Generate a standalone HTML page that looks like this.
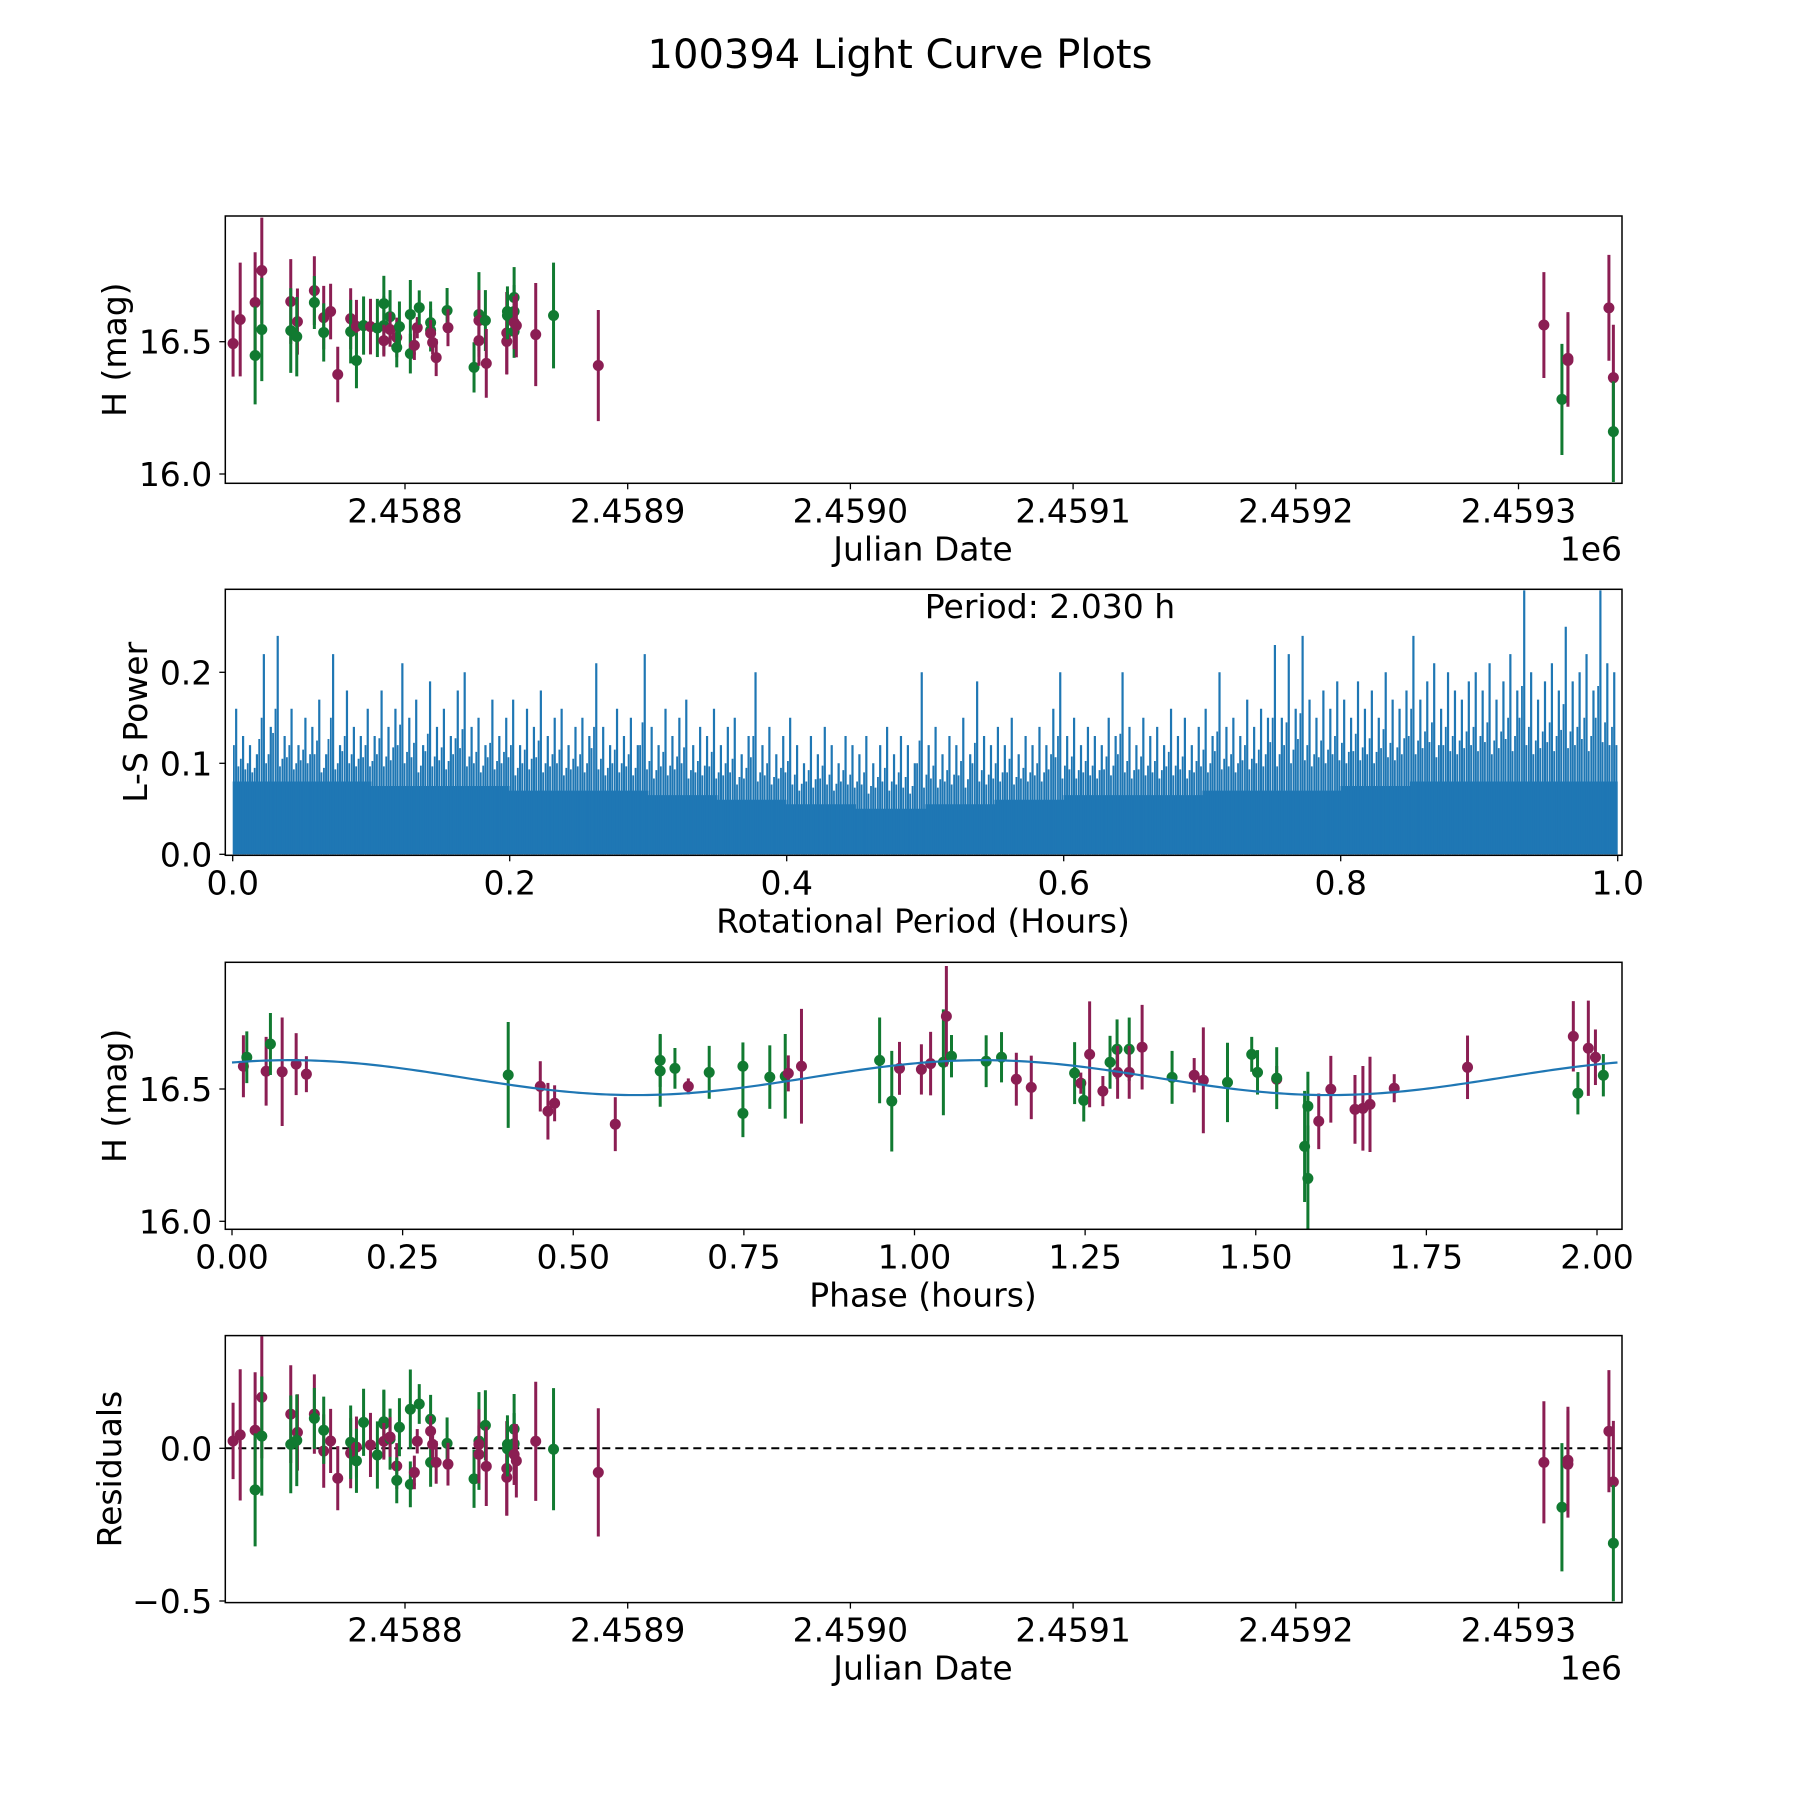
<!DOCTYPE html>
<html><head><meta charset="utf-8"><title>100394 Light Curve Plots</title>
<style>
html,body{margin:0;padding:0;background:#fff;}
svg{display:block;font-family:"DejaVu Sans","Liberation Sans",sans-serif;}
</style></head>
<body>
<svg id="fig" xmlns="http://www.w3.org/2000/svg" width="1800" height="1800" viewBox="0 0 1800 1800">
<rect x="0" y="0" width="1800" height="1800" fill="#fff"/>
<text x="900" y="68" font-size="40" text-anchor="middle" fill="#000">100394 Light Curve Plots</text>
<defs>
<clipPath id="c1"><rect x="225.3" y="216" width="1396.7" height="267.3"/></clipPath>
<clipPath id="c2"><rect x="225.3" y="589.3" width="1396.7" height="266"/></clipPath>
<clipPath id="c3"><rect x="225.3" y="962.3" width="1396.7" height="267"/></clipPath>
<clipPath id="c4"><rect x="225.3" y="1335.6" width="1396.7" height="267"/></clipPath>
</defs>
<g id="g1"></g>
<g id="g2"></g>
<g id="g3"></g>
<g id="g4"></g>
</svg>
<script>
// ---- Light curve data (Julian date, H mag, error, filter colour) ----
const jd = [2458722.8,2458726.0,2458732.7,2458732.7,2458735.7,2458735.7,2458748.7,2458748.7,2458751.7,2458751.4,
2458759.3,2458759.3,2458763.5,2458763.5,2458766.6,2458769.8,2458775.6,2458775.6,2458778.2,2458778.2,
2458781.4,2458784.5,2458787.6,2458790.5,2458790.5,2458790.5,2458793.3,2458793.3,2458796.3,2458796.3,
2458797.5,2458802.4,2458802.4,2458804.2,2458805.5,2458806.4,2458811.5,2458811.5,2458811.5,2458812.4,
2458814.0,2458818.9,2458819.3,2458831.0,2458833.2,2458833.2,2458833.2,2458836.1,2458836.5,2458845.7,
2458845.7,2458846.0,2458846.0,2458849.0,2458849.0,2458849.0,2458849.0,2458850.0,2458858.7,2458866.7,
2458886.8,2459311.4,2459319.5,2459322.2,2459322.2,2459340.6,2459342.6,2459342.6];
const mag = [16.493,16.584,16.648,16.448,16.769,16.546,16.652,16.542,16.576,16.519,
16.693,16.648,16.591,16.535,16.614,16.376,16.587,16.538,16.558,16.429,
16.561,16.557,16.552,16.644,16.561,16.504,16.595,16.546,16.516,16.478,
16.557,16.603,16.455,16.486,16.553,16.629,16.572,16.543,16.532,16.497,
16.440,16.618,16.553,16.403,16.603,16.580,16.504,16.580,16.418,16.533,
16.501,16.614,16.599,16.667,16.614,16.539,16.572,16.561,16.527,16.599,
16.410,16.563,16.282,16.437,16.429,16.628,16.364,16.160];
const magErr = [.125,.215,.19,.185,.2,.195,.16,.16,.125,.15,
.13,.1,.12,.11,.105,.105,.115,.12,.1,.105,
.11,.105,.11,.105,.11,.06,.1,.065,.075,.075,
.095,.13,.075,.055,.04,.065,.08,.08,.05,.045,
.07,.085,.07,.095,.16,.115,.095,.115,.13,.155,
.125,.095,.09,.115,.1,.1,.1,.12,.195,.2,
.21,.2,.21,.175,.175,.2,.2,.19];
const band = ['m','m','m','g','m','g','m','g','m','g',
'm','g','m','g','m','m','m','g','m','g',
'g','m','g','g','g','m','g','m','m','g',
'g','g','g','m','m','g','g','g','m','m',
'm','g','m','g','g','m','m','g','m','m',
'm','g','g','g','g','g','m','m','m','g',
'm','m','g','m','m','m','m','g'];
const resid = [.024,.044,.059,-.136,.167,.040,.112,.013,.052,.026,
.112,.098,-.009,.059,.024,-.098,-.016,.020,.004,-.041,
.085,.011,-.022,.087,.079,.023,.03,.037,-.058,-.105,
.069,.128,-.118,-.079,.023,.145,.095,-.046,.056,.013,
-.046,.016,-.052,-.100,.024,.013,-.020,.075,-.059,-.066,
-.095,.013,-.002,.063,.015,.015,-.020,-.041,.023,-.003,
-.079,-.046,-.193,-.039,-.052,.056,-.11,-.311];
// ---- Phase-folded data ----
const phase = [0.0167,0.0217,0.050,0.0563,0.0735,0.094,0.109,0.4047,0.4517,0.4629,0.4727,0.5616,0.6274,0.6274,0.649,0.6686,0.6992,0.7486,0.7486,0.788,
0.8106,0.8151,0.8344,0.9489,0.9667,0.978,1.0101,1.0236,1.0423,1.0467,1.0542,1.105,1.1275,1.1492,1.1711,1.2346,1.2437,1.248,1.2566,1.276,
1.2865,1.2968,1.2976,1.3146,1.3146,1.3335,1.3774,1.4098,1.4232,1.4586,1.4941,1.5026,1.5307,1.5307,1.5716,1.5764,1.5764,1.5923,1.61,1.6454,
1.657,1.6674,1.7029,1.8103,1.9653,1.972,1.9873,1.9977,2.0093];
const phaseMag = [16.586,16.620,16.567,16.670,16.565,16.594,16.556,16.553,16.510,16.416,16.446,16.367,16.608,16.568,16.578,16.510,16.563,16.586,16.408,16.545,
16.548,16.559,16.586,16.608,16.454,16.578,16.574,16.596,16.601,16.775,16.624,16.605,16.620,16.537,16.506,16.560,16.522,16.457,16.631,16.492,
16.601,16.650,16.563,16.650,16.563,16.658,16.544,16.552,16.533,16.525,16.631,16.563,16.537,16.541,16.283,16.435,16.162,16.378,16.499,16.423,
16.427,16.442,16.503,16.582,16.699,16.484,16.654,16.620,16.552];
const phaseErr = [.117,.098,.13,.117,.205,.117,.068,.2,.095,.107,.068,.102,.1,.135,.077,.03,.1,.09,.09,.12,
.16,.068,.217,.162,.19,.1,.095,.12,.2,.19,.08,.098,.095,.1,.12,.117,.04,.08,.2,.057,
.1,.113,.1,.12,.1,.16,.1,.065,.2,.15,.066,.084,.05,.117,.21,.13,.2,.105,.126,.13,
.16,.18,.053,.12,.133,.08,.18,.105,.08];
const phaseBand = ['m','g','m','g','m','m','m','g','m','m','m','m','g','g','g','m','g','g','g','g',
'g','m','m','g','g','m','m','m','g','m','g','g','g','m','m','g','m','g','m','m',
'g','g','m','g','m','m','g','m','m','g','g','g','m','g','g','g','g','m','m','m',
'm','m','m','m','m','g','m','m','g'];
// model: mean, amplitude, half-period (h), phase of maximum (h), max phase plotted
const modelMean = [16.543];
const modelAmp = [0.066];
const modelHalfPeriod = [1.015];
const modelPeak = [0.085];
const modelSpan = [2.03];
// ---- Periodogram (peak power per 0.005 h bin, floor per 0.05 h) ----
const lsPeaks = [.16,.13,.12,.11,.22,.14,.24,.13,.16,.12,
.15,.14,.17,.11,.22,.12,.18,.14,.13,.16,
.13,.18,.14,.16,.21,.15,.17,.12,.19,.14,
.16,.13,.18,.20,.14,.15,.12,.17,.13,.15,
.17,.12,.16,.14,.18,.13,.15,.16,.12,.14,
.15,.13,.21,.14,.12,.16,.13,.15,.12,.22,
.14,.12,.16,.13,.15,.17,.12,.14,.13,.16,
.12,.14,.15,.11,.13,.20,.12,.14,.11,.13,
.15,.12,.10,.13,.11,.14,.12,.10,.13,.12,
.11,.13,.10,.12,.14,.11,.13,.12,.10,.20,
.12,.14,.11,.13,.12,.15,.11,.19,.13,.12,
.14,.12,.15,.11,.13,.12,.14,.12,.16,.20,
.13,.15,.12,.14,.13,.12,.15,.13,.20,.14,
.12,.15,.13,.14,.12,.16,.13,.15,.12,.14,
.16,.13,.20,.14,.15,.13,.17,.14,.16,.15,
.23,.15,.22,.16,.24,.17,.15,.18,.16,.19,
.17,.15,.19,.16,.18,.15,.20,.17,.16,.18,
.24,.17,.19,.21,.16,.20,.18,.17,.19,.20,
.18,.21,.17,.19,.22,.18,.29,.20,.17,.19,
.21,.18,.25,.19,.20,.22,.18,.29,.21,.20];
const lsFloor = [.08,.08,.075,.075,.07,.07,.065,.06,.055,.05,.055,.06,.065,.065,.07,.07,.075,.08,.08,.08];
const periodLabel = ['Period: 2.030 h'];
// ---- Tick labels ----
const jdTicks = [2458800,2458900,2459000,2459100,2459200,2459300];
const jdTickLabels = ['2.4588','2.4589','2.4590','2.4591','2.4592','2.4593'];
const magTicks = [16.0,16.5];
const magTickLabels = ['16.0','16.5'];
const lsXTicks = [0,0.2,0.4,0.6,0.8,1.0];
const lsXTickLabels = ['0.0','0.2','0.4','0.6','0.8','1.0'];
const lsYTicks = [0,0.1,0.2];
const lsYTickLabels = ['0.0','0.1','0.2'];
const phTicks = [0,0.25,0.5,0.75,1.0,1.25,1.5,1.75,2.0];
const phTickLabels = ['0.00','0.25','0.50','0.75','1.00','1.25','1.50','1.75','2.00'];
const resTicks = [0,-0.5];
const resTickLabels = ['0.0','\u22120.5'];

const NS='http://www.w3.org/2000/svg';
const COL={m:'#8b1e53',g:'#117a31'};
const FS=33;
const L=225.3,R=1622;
const P1={t:216,b:483.3}, P2={t:589.3,b:855.3}, P3={t:962.3,b:1229.3}, P4={t:1335.6,b:1602.6};
const xJD=v=>405+(v-2458800)*2.227;
const yMag1=v=>474-(v-16)*264.6;
const yMag3=v=>1221.3-(v-16)*264.6;
const xLS=v=>232.7+v*1385;
const yLS=v=>854.3-v*910;
const xPh=v=>232+v*682.5;
const yRes=v=>1448.3-v*305.4;

function mk(tag,attrs,parent){const e=document.createElementNS(NS,tag);for(const k in attrs)e.setAttribute(k,attrs[k]);parent.appendChild(e);return e;}
function frame(g,P){
  const r=mk('rect',{x:L,y:P.t,width:R-L,height:P.b-P.t,fill:'none',stroke:'#000','stroke-width':1.5},g);
  
  
}
function xticks(g,P,vals,labels,fx,name){
  vals.forEach((v,i)=>{const x=fx(v);
    const t=mk('line',{x1:x,x2:x,y1:P.b,y2:P.b+6,stroke:'#000','stroke-width':1.3},g);
    
    
    const s=mk('text',{x:x,y:P.b+39,'font-size':FS,'text-anchor':'middle'},g);s.textContent=labels[i];
    
    
  });
}
function yticks(g,P,vals,labels,fy,name){
  vals.forEach((v,i)=>{const y=fy(v);
    const t=mk('line',{x1:L-6,x2:L,y1:y,y2:y,stroke:'#000','stroke-width':1.3},g);
    
    
    const s=mk('text',{x:L-13,y:y+12,'font-size':FS,'text-anchor':'end'},g);s.textContent=labels[i];
    
    
  });
}
function label(g,txt,x,y,rot,name,anchor){
  const s=mk('text',{x:x,y:y,'font-size':FS,'text-anchor':anchor||'middle'},g);
  if(rot)s.setAttribute('transform','rotate(-90 '+x+' '+y+')');
  s.textContent=txt;
  
  
}
function errPoints(g,clip,xs,ys,es,cs,fx,fy,name){
  const c=mk('g',{'clip-path':'url(#'+clip+')'},g);
  
  
  for(let i=0;i<xs.length;i++){
    const x=fx(xs[i]),col=COL[cs[i]];
    const l=mk('line',{x1:x,x2:x,y1:fy(ys[i]-es[i]),y2:fy(ys[i]+es[i]),stroke:col,'stroke-width':3},c);
    
    
    const d=mk('circle',{cx:x,cy:fy(ys[i]),r:5.5,fill:col},c);
    
    
  }
}

// Panel 1
const g1=document.getElementById('g1');
errPoints(g1,'c1',jd,mag,magErr,band,xJD,yMag1,'light-curve');
frame(g1,P1);
xticks(g1,P1,jdTicks,jdTickLabels,xJD,'jd-x');
yticks(g1,P1,magTicks,magTickLabels,yMag1,'mag-y');
label(g1,'Julian Date',923,P1.b+77,false,'x-axis-title');
label(g1,'1e6',R,P1.b+77,false,'x-axis-offset','end');
label(g1,'H (mag)',126,(P1.t+P1.b)/2,true,'y-axis-title');

// Panel 2 periodogram
const g2=document.getElementById('g2');
const c2=mk('g',{'clip-path':'url(#c2)'},g2);


let fp='M'+xLS(0)+','+yLS(0);
lsFloor.forEach((v,i)=>{fp+=' L'+xLS(i*0.05)+','+yLS(v)+' L'+xLS((i+1)*0.05)+','+yLS(v);});
fp+=' L'+xLS(1)+','+yLS(0)+' Z';
const fl=mk('path',{d:fp,fill:'#1f77b4'},c2);


lsPeaks.forEach((v,i)=>{
  const x0=xLS(i*0.005), x1=xLS((i+1)*0.005);
  const x=(x0+x1)/2;
  const pk=mk('line',{x1:x,x2:x,y1:yLS(0),y2:yLS(v),stroke:'#1f77b4','stroke-width':2.2},c2);
  
  
  const fm=lsFloor[Math.floor(i/10)];
  const nb=lsPeaks[Math.min(i+1,lsPeaks.length-1)];
  const a=mk('line',{x1:x0+1.2,x2:x0+1.2,y1:yLS(0),y2:yLS((v+fm)/2),stroke:'#1f77b4','stroke-width':1.8},c2);
  
  
  const b=mk('line',{x1:x1-1.2,x2:x1-1.2,y1:yLS(0),y2:yLS((nb+2*fm)/3),stroke:'#1f77b4','stroke-width':1.8},c2);
  
  
});
frame(g2,P2);
xticks(g2,P2,lsXTicks,lsXTickLabels,xLS,'period-x');
yticks(g2,P2,lsYTicks,lsYTickLabels,yLS,'power-y');
label(g2,'Rotational Period (Hours)',923,P2.b+77,false,'x-axis-title');
label(g2,periodLabel[0],1050,618,false,'period-annotation');
label(g2,'L-S Power',147,(P2.t+P2.b)/2,true,'y-axis-title');

// Panel 3 phase folded
const g3=document.getElementById('g3');
errPoints(g3,'c3',phase,phaseMag,phaseErr,phaseBand,xPh,yMag3,'phase');
let mp='';
for(let k=0;k<=300;k++){const p=modelSpan[0]*k/300;
  const h=modelMean[0]+modelAmp[0]*Math.cos(2*Math.PI*(p-modelPeak[0])/modelHalfPeriod[0]);
  mp+=(k?' L':'M')+xPh(p).toFixed(2)+','+yMag3(h).toFixed(2);}
const ml=mk('path',{d:mp,fill:'none',stroke:'#1f77b4','stroke-width':2.2,'clip-path':'url(#c3)'},g3);


frame(g3,P3);
xticks(g3,P3,phTicks,phTickLabels,xPh,'phase-x');
yticks(g3,P3,magTicks,magTickLabels,yMag3,'mag-y');
label(g3,'Phase (hours)',923,P3.b+77,false,'x-axis-title');
label(g3,'H (mag)',126,(P3.t+P3.b)/2,true,'y-axis-title');

// Panel 4 residuals
const g4=document.getElementById('g4');
const zl=mk('line',{x1:L,x2:R,y1:yRes(0),y2:yRes(0),stroke:'#000','stroke-width':2,'stroke-dasharray':'8,5'},g4);


errPoints(g4,'c4',jd,resid,magErr,band,xJD,yRes,'residual');
frame(g4,P4);
xticks(g4,P4,jdTicks,jdTickLabels,xJD,'jd-x');
yticks(g4,P4,resTicks,resTickLabels,yRes,'residual-y');
label(g4,'Julian Date',923,P4.b+77,false,'x-axis-title');
label(g4,'1e6',R,P4.b+77,false,'x-axis-offset','end');
label(g4,'Residuals',121,(P4.t+P4.b)/2,true,'y-axis-title');
</script>
</body></html>
